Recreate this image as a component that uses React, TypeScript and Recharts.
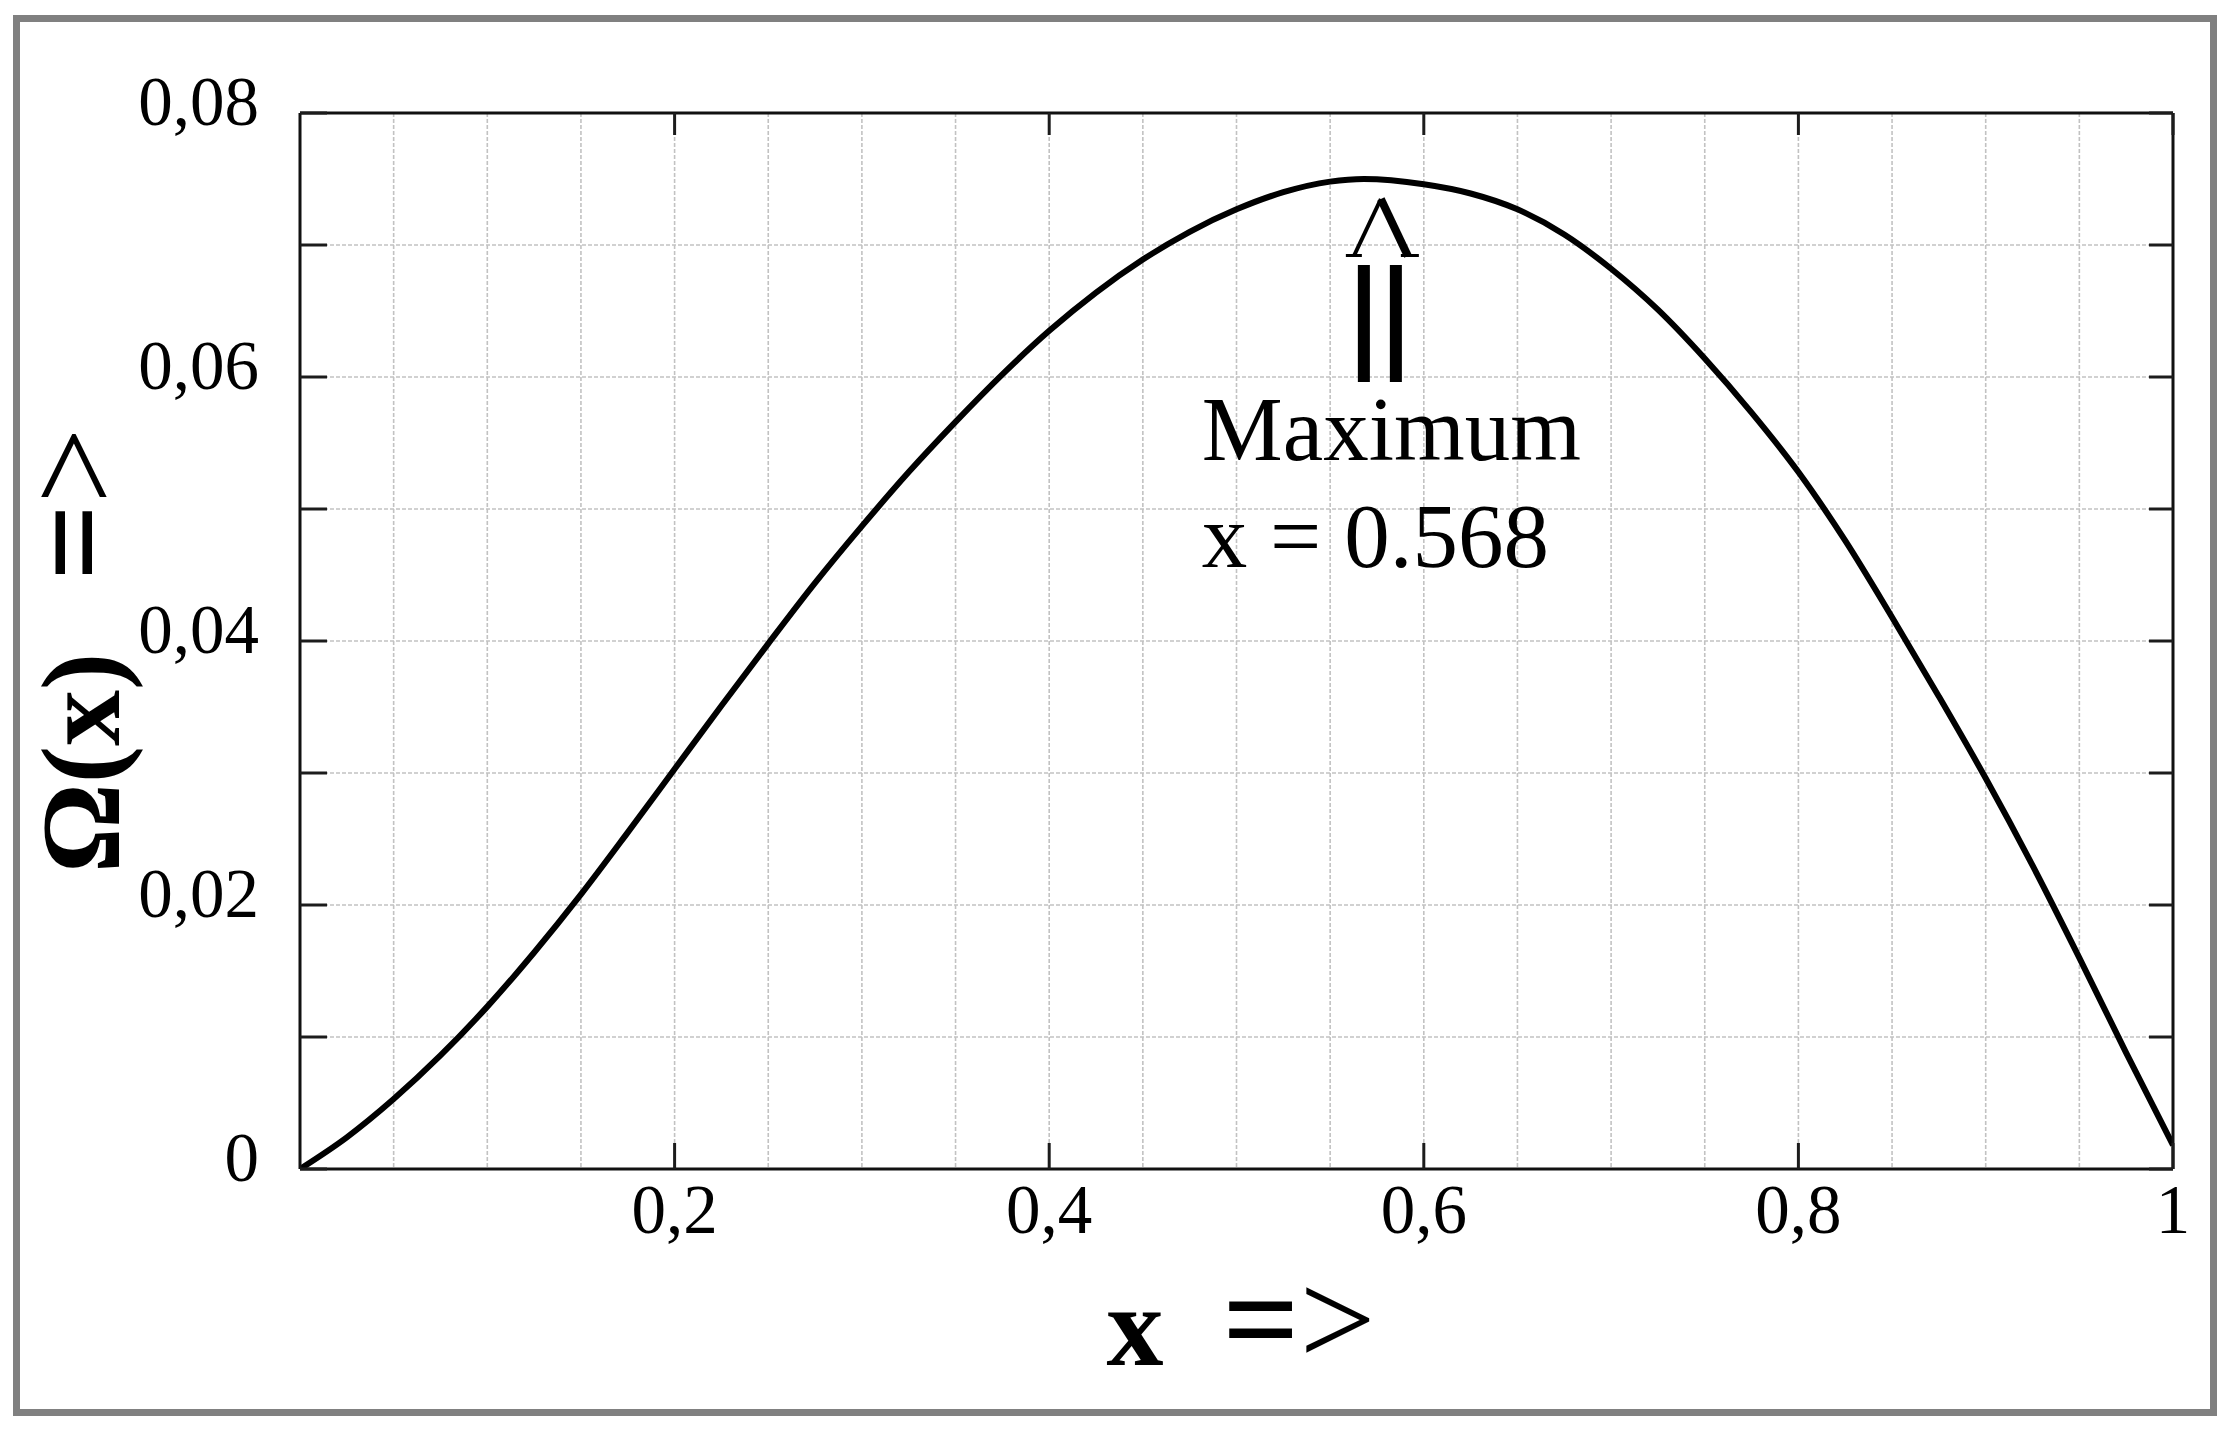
import { LineChart, Line, XAxis, YAxis, CartesianGrid, ReferenceDot } from 'recharts';

// values
const xValues = [
  0, 0.025, 0.05, 0.075, 0.1, 0.125, 0.15, 0.175, 0.2, 0.225, 0.25, 0.275, 0.3, 0.325, 0.35,
  0.375, 0.4, 0.425, 0.45, 0.475, 0.5, 0.525, 0.55, 0.568, 0.6, 0.625, 0.65, 0.675, 0.7,
  0.725, 0.75, 0.775, 0.8, 0.825, 0.85, 0.875, 0.9, 0.925, 0.95, 0.975, 1,
];
const omegaValues = [
  0, 0.0024, 0.0053, 0.0086, 0.0123, 0.0164, 0.0208, 0.0255, 0.0303, 0.0351, 0.0398, 0.0444,
  0.0487, 0.0528, 0.0566, 0.0602, 0.0635, 0.0664, 0.0689, 0.071, 0.0727, 0.074, 0.0748, 0.075,
  0.0746, 0.0739, 0.0727, 0.0708, 0.0682, 0.0651, 0.0614, 0.0573, 0.0528, 0.0476, 0.0418,
  0.0358, 0.0296, 0.023, 0.016, 0.0088, 0.0018,
];

const xTicks = [0, 0.05, 0.1, 0.15, 0.2, 0.25, 0.3, 0.35, 0.4, 0.45, 0.5, 0.55, 0.6, 0.65, 0.7, 0.75, 0.8, 0.85, 0.9, 0.95, 1];
const xLabelTicks = [0.2, 0.4, 0.6, 0.8, 1];
const yTicks = [0, 0.01, 0.02, 0.03, 0.04, 0.05, 0.06, 0.07, 0.08];
const yLabelTicks = [0, 0.02, 0.04, 0.06, 0.08];

const maxX = 0.568;
const maxY = 0.075;
const maxLabel = ['Maximum', 'x = 0.568'];

const data = xValues.map((x, i) => ({ x, omega: omegaValues[i] }));

const FONT = '"Liberation Serif", "Times New Roman", serif';
const TICK_COLOR = '#1c1c1c';

const inList = (v: number, list: number[]) => list.some((t) => Math.abs(t - v) < 1e-9);
const formatX = (v: number) => (v === 1 ? '1' : String(v).replace('.', ','));
const formatY = (v: number) => (v === 0 ? '0' : v.toFixed(2).replace('.', ','));

const BottomTick = (props: any) => {
  const { x, y, payload } = props;
  if (!inList(payload.value, xLabelTicks)) return <g />;
  return (
    <g>
      <line x1={x} y1={y} x2={x} y2={y - 26} stroke={TICK_COLOR} strokeWidth={3} />
      <text x={x} y={y + 64} textAnchor="middle" fontFamily={FONT} fontSize={69} fill="#000">
        {formatX(payload.value)}
      </text>
    </g>
  );
};

const TopTick = (props: any) => {
  const { x, y, payload } = props;
  if (!inList(payload.value, xLabelTicks)) return <g />;
  return <line x1={x} y1={y} x2={x} y2={y + 22} stroke={TICK_COLOR} strokeWidth={3} />;
};

const LeftTick = (props: any) => {
  const { x, y, payload } = props;
  return (
    <g>
      <line x1={x} y1={y} x2={x + 27} y2={y} stroke={TICK_COLOR} strokeWidth={3} />
      {inList(payload.value, yLabelTicks) && (
        <text x={x - 41} y={y + 12} textAnchor="end" fontFamily={FONT} fontSize={69} fill="#000">
          {formatY(payload.value)}
        </text>
      )}
    </g>
  );
};

const RightTick = (props: any) => {
  const { x, y } = props;
  return <line x1={x - 24} y1={y} x2={x} y2={y} stroke={TICK_COLOR} strokeWidth={3} />;
};

const XTitle = (props: any) => {
  const { viewBox } = props;
  const cx = viewBox.x + viewBox.width / 2;
  return (
    <text x={cx - 130} y={viewBox.y + 196} fontFamily={FONT} fill="#000">
      <tspan fontSize={114} fontWeight="bold">x</tspan>
      <tspan dx={59} fontSize={135} fontWeight="bold">=</tspan>
      <tspan fontSize={135}>&gt;</tspan>
    </text>
  );
};

const YTitle = (props: any) => {
  const { viewBox } = props;
  const cy = viewBox.y + viewBox.height / 2;
  // rotated: text x runs upwards on screen
  return (
    <text transform="rotate(-90)" x={-(cy + 232)} y={119} fontFamily={FONT} fill="#000">
      <tspan fontSize={112} fontWeight="bold">Ω(x)</tspan>
      <tspan dx={72} fontSize={135} fontWeight="bold">=</tspan>
      <tspan fontSize={135}>&gt;</tspan>
    </text>
  );
};

// "⇑" style marker under the maximum, then the two text lines
const MaxAnnotation = (props: any) => {
  const { viewBox } = props;
  const ax = viewBox.x + viewBox.width / 2;
  const ay = viewBox.y + viewBox.height / 2;
  const tipX = ax + 17;
  const tipY = ay + 20;
  const footY = ay + 77;
  return (
    <g fill="#000" fontFamily={FONT}>
      <line x1={tipX} y1={tipY} x2={ax - 10} y2={footY} stroke="#000" strokeWidth={4} />
      <line x1={tipX} y1={tipY} x2={ax + 44} y2={footY} stroke="#000" strokeWidth={8} />
      <rect x={ax - 18} y={footY - 2} width={16} height={3} />
      <rect x={ax + 37} y={footY - 2} width={18} height={3} />
      <rect x={ax - 6} y={ay + 86} width={12} height={117} />
      <rect x={ax + 26} y={ay + 86} width={12} height={117} />
      <text x={ax - 162} y={ay + 281} fontSize={91}>{maxLabel[0]}</text>
      <text x={ax - 162} y={ay + 388} fontSize={91}>{maxLabel[1]}</text>
    </g>
  );
};

export default function App() {
  const axisLine = { stroke: '#111', strokeWidth: 3 };
  return (
    <div style={{ position: 'absolute', left: 0, top: 0, width: 2234, height: 1433, background: '#fff' }}>
      <div
        style={{
          position: 'absolute',
          left: 13,
          top: 15,
          width: 2204,
          height: 1401,
          border: '7px solid #808080',
          boxSizing: 'border-box',
        }}
      />
      <div style={{ position: 'absolute', left: 0, top: 0 }}>
        <LineChart width={2234} height={1433} data={data} margin={{ top: 112, right: 60, bottom: 234, left: 200 }}>
          <CartesianGrid stroke="#c2c2c2" strokeWidth={1.6} strokeDasharray="4 2" />
          <XAxis
            dataKey="x"
            type="number"
            domain={[0, 1]}
            ticks={xTicks}
            interval={0}
            allowDataOverflow
            height={30}
            tickSize={0}
            tickMargin={0}
            tickLine={false}
            axisLine={axisLine}
            tick={<BottomTick />}
            label={{ content: XTitle }}
          />
          <XAxis
            xAxisId="top"
            orientation="top"
            dataKey="x"
            type="number"
            domain={[0, 1]}
            ticks={xTicks}
            interval={0}
            allowDataOverflow
            height={1}
            tickSize={0}
            tickMargin={0}
            tickLine={false}
            axisLine={axisLine}
            tick={<TopTick />}
          />
          <YAxis
            type="number"
            domain={[0, 0.08]}
            ticks={yTicks}
            interval={0}
            allowDataOverflow
            width={100}
            tickSize={0}
            tickMargin={0}
            tickLine={false}
            axisLine={axisLine}
            tick={<LeftTick />}
            label={{ content: YTitle }}
          />
          <YAxis
            yAxisId="right"
            orientation="right"
            type="number"
            domain={[0, 0.08]}
            ticks={yTicks}
            interval={0}
            allowDataOverflow
            width={1}
            tickSize={0}
            tickMargin={0}
            tickLine={false}
            axisLine={axisLine}
            tick={<RightTick />}
          />
          <Line
            type="monotone"
            dataKey="omega"
            stroke="#000"
            strokeWidth={6}
            dot={false}
            activeDot={false}
            isAnimationActive={false}
          />
          <ReferenceDot x={maxX} y={maxY} r={0} fill="none" stroke="none" label={{ content: MaxAnnotation }} />
        </LineChart>
      </div>
    </div>
  );
}
